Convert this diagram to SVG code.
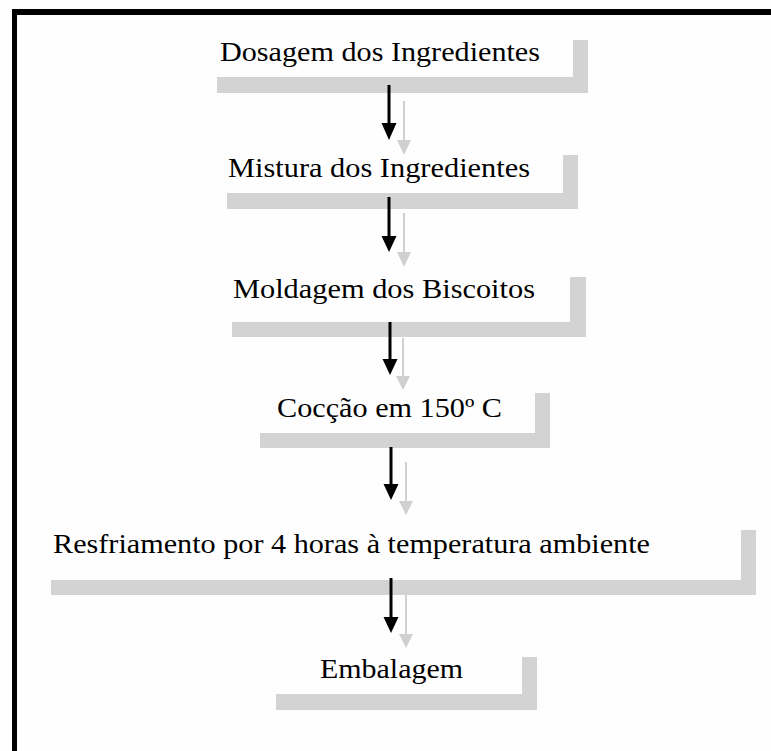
<svg xmlns="http://www.w3.org/2000/svg" width="771" height="751" viewBox="0 0 771 751">
<style>
.bg{fill:#fefefe}
.frame{fill:#000}
.sh{fill:#d3d3d3}
.lbl{font-family:"Liberation Serif","Times New Roman",serif;font-size:27px;fill:#000}
.blk{stroke:#000;stroke-width:3;fill:none}
.blkh{fill:#000}
.gry{stroke:#d0d0d0;stroke-width:2;fill:none}
.gryh{fill:#d0d0d0}
</style>
<rect class="bg" x="0" y="0" width="771" height="751"/>
<g id="frame">
<rect class="frame" x="12" y="9" width="759" height="6"/>
<rect class="frame" x="12" y="9" width="5" height="742"/>
</g>
<g id="n1">
<rect class="sh" x="217" y="77" width="371" height="16"/>
<rect class="sh" x="573" y="40" width="15" height="53"/>
<text class="lbl" x="220" y="61" textLength="320" lengthAdjust="spacingAndGlyphs">Dosagem dos Ingredientes</text>
</g>
<g id="n2">
<rect class="sh" x="227" y="193" width="351" height="16"/>
<rect class="sh" x="563" y="155" width="15" height="54"/>
<text class="lbl" x="228" y="177" textLength="302" lengthAdjust="spacingAndGlyphs">Mistura dos Ingredientes</text>
</g>
<g id="n3">
<rect class="sh" x="232" y="322" width="354" height="15"/>
<rect class="sh" x="570" y="277" width="16" height="60"/>
<text class="lbl" x="233" y="298" textLength="302" lengthAdjust="spacingAndGlyphs">Moldagem dos Biscoitos</text>
</g>
<g id="n4">
<rect class="sh" x="260" y="433" width="290" height="15"/>
<rect class="sh" x="535" y="393" width="15" height="55"/>
<text class="lbl" x="277" y="417" textLength="225" lengthAdjust="spacingAndGlyphs">Cocção em 150º C</text>
</g>
<g id="n5">
<rect class="sh" x="51" y="580" width="705" height="15"/>
<rect class="sh" x="741" y="530" width="15" height="65"/>
<text class="lbl" x="53" y="553" textLength="597" lengthAdjust="spacingAndGlyphs">Resfriamento por 4 horas à temperatura ambiente</text>
</g>
<g id="n6">
<rect class="sh" x="276" y="694" width="261" height="16"/>
<rect class="sh" x="522" y="657" width="15" height="53"/>
<text class="lbl" x="320" y="678" textLength="143" lengthAdjust="spacingAndGlyphs">Embalagem</text>
</g>
<g id="connectors">
<g id="e1">
<line class="gry" x1="404" y1="101" x2="404" y2="142"/>
<polygon class="gryh" points="397,140 411,140 404,155"/>
<line class="blk" x1="389" y1="85" x2="389" y2="126"/>
<polygon class="blkh" points="381.5,123 396.5,123 389,140"/>
</g>
<g id="e2">
<line class="gry" x1="404" y1="213" x2="404" y2="254"/>
<polygon class="gryh" points="397,252 411,252 404,267"/>
<line class="blk" x1="389" y1="197" x2="389" y2="238"/>
<polygon class="blkh" points="381.5,236 396.5,236 389,252"/>
</g>
<g id="e3">
<line class="gry" x1="403" y1="338" x2="403" y2="379"/>
<polygon class="gryh" points="396,376 410,376 403,390"/>
<line class="blk" x1="390" y1="322" x2="390" y2="361"/>
<polygon class="blkh" points="382.5,359 397.5,359 390,375"/>
</g>
<g id="e4">
<line class="gry" x1="406" y1="462" x2="406" y2="503"/>
<polygon class="gryh" points="399,501 413,501 406,515"/>
<line class="blk" x1="391" y1="447" x2="391" y2="486"/>
<polygon class="blkh" points="383.5,484 398.5,484 391,500"/>
</g>
<g id="e5">
<line class="gry" x1="406" y1="595" x2="406" y2="636"/>
<polygon class="gryh" points="399,634 413,634 406,648"/>
<line class="blk" x1="391" y1="578" x2="391" y2="619"/>
<polygon class="blkh" points="383.5,617 398.5,617 391,633"/>
</g>
</g>
</svg>
